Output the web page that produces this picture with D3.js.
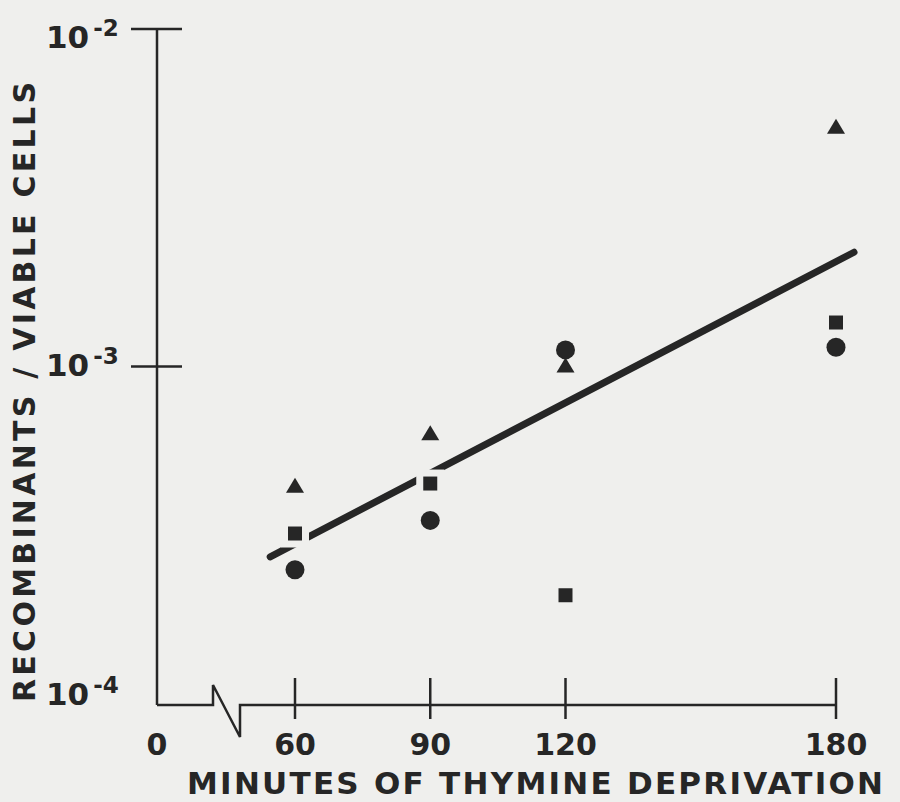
<!DOCTYPE html>
<html>
<head>
<meta charset="utf-8">
<script src="https://cdn.jsdelivr.net/npm/d3@7"></script>
<style>
  html, body { margin: 0; padding: 0; background: #efefed; }
  svg text { font-family: "DejaVu Sans", sans-serif; font-weight: bold; fill: #262626; }
</style>
</head>
<body>
<svg id="chart"></svg>
<script>
// minutes of thymine deprivation
const minutes = [60, 90, 120, 180];
// recombinants / viable cells, one array per marker
const triangleValues = [4.4e-4, 6.3e-4, 1.0e-3, 5.1e-3];
const squareValues = [3.2e-4, 4.5e-4, 2.1e-4, 1.35e-3];
const circleValues = [2.5e-4, 3.5e-4, 1.12e-3, 1.14e-3];
// fitted line end points [minutes, value]
const fitLine = [[54.5, 2.73e-4], [184, 2.18e-3]];
const yTickExponents = [-2, -3, -4];
const xTickLabels = ["60", "90", "120", "180"];

const layout = {
  width: 900,
  height: 802,
  axisX: 157,
  axisY: 705,
  ink: "#262626",
  paper: "#efefed",
};

function render() {
  const { width, height, axisX, axisY, ink, paper } = layout;
  const svg = d3.select("svg#chart").attr("width", width).attr("height", height);

  const x = d3.scaleLinear().domain([60, 180]).range([295, 836]);
  const y = d3.scaleLog().domain([1e-4, 1e-2]).range([704, 29]);

  // axes
  const axes = svg.append("g").attr("stroke", ink).attr("stroke-width", 2.5).attr("fill", "none");
  axes.append("line")
    .attr("x1", axisX).attr("x2", axisX)
    .attr("y1", y(1e-2)).attr("y2", axisY);
  // x axis with the break mark
  axes.append("path")
    .attr("stroke-linejoin", "miter")
    .attr("d", d3.line()([
      [axisX, axisY], [213, axisY], [213, axisY - 20],
      [240, axisY + 32], [240, axisY], [x(180), axisY],
    ]));
  axes.selectAll("line.ytick")
    .data(yTickExponents.filter((e) => e > -4))
    .join("line")
    .attr("class", "ytick")
    .attr("x1", axisX - 26).attr("x2", axisX + 25)
    .attr("y1", (e) => y(Math.pow(10, e))).attr("y2", (e) => y(Math.pow(10, e)));
  axes.selectAll("line.xtick")
    .data(minutes)
    .join("line")
    .attr("class", "xtick")
    .attr("x1", (d) => x(d)).attr("x2", (d) => x(d))
    .attr("y1", axisY - 27).attr("y2", axisY + 14);

  // y tick labels 10^-n
  const yLabelShift = { "-2": 19, "-3": 9, "-4": 1 };
  const yLabels = svg.append("g")
    .selectAll("text")
    .data(yTickExponents)
    .join("text")
    .attr("x", 46)
    .attr("y", (e) => y(Math.pow(10, e)) + yLabelShift[e])
    .style("font-size", "31px");
  yLabels.append("tspan").text("10");
  yLabels.append("tspan")
    .attr("dx", 4)
    .attr("dy", -12)
    .style("font-size", "23px")
    .text((e) => "-" + Math.abs(e));

  // x tick labels
  svg.append("g")
    .selectAll("text")
    .data(["0", ...xTickLabels])
    .join("text")
    .attr("x", (d, i) => (i === 0 ? axisX : x(minutes[i - 1])))
    .attr("y", 755)
    .attr("text-anchor", "middle")
    .style("font-size", "30px")
    .text((d) => d);

  // axis titles
  svg.append("text")
    .attr("x", 187)
    .attr("y", 794)
    .attr("textLength", 696)
    .attr("lengthAdjust", "spacing")
    .style("font-size", "31px")
    .text("MINUTES OF THYMINE DEPRIVATION");
  svg.append("text")
    .attr("transform", "translate(35, 702) rotate(-90)")
    .attr("textLength", 620)
    .attr("lengthAdjust", "spacing")
    .style("font-size", "30px")
    .text("RECOMBINANTS / VIABLE CELLS");

  // fitted line
  svg.append("path")
    .attr("fill", "none")
    .attr("stroke", ink)
    .attr("stroke-width", 7)
    .attr("stroke-linecap", "round")
    .attr("d", d3.line().x((d) => x(d[0])).y((d) => y(d[1]))(fitLine));

  const series = [
    { shape: "triangle", values: triangleValues },
    { shape: "square", values: squareValues },
    { shape: "circle", values: circleValues },
  ];
  const points = series.flatMap((s) => s.values.map((v, i) => ({ shape: s.shape, t: minutes[i], v })));
  const shapePath = (shape, pad) => {
    if (shape === "circle") {
      const r = 9.5 + pad;
      return `M${-r},0A${r},${r} 0 1,0 ${r},0A${r},${r} 0 1,0 ${-r},0Z`;
    }
    if (shape === "square") {
      const h = 7 + pad;
      return `M${-h},${-h}H${h}V${h}H${-h}Z`;
    }
    const w = 9 + pad, top = -9 - pad, bottom = 6 + pad;
    return `M0,${top}L${w},${bottom}L${-w},${bottom}Z`;
  };

  // paper-coloured halo so the line breaks around the markers
  svg.append("g")
    .selectAll("path")
    .data(points.filter((d) => d.shape === "square"))
    .join("path")
    .attr("transform", (d) => `translate(${x(d.t)}, ${y(d.v)})`)
    .attr("fill", paper)
    .attr("d", (d) => shapePath(d.shape, 7));

  svg.append("g")
    .selectAll("path")
    .data(points)
    .join("path")
    .attr("transform", (d) => `translate(${x(d.t)}, ${y(d.v)})`)
    .attr("fill", ink)
    .attr("d", (d) => shapePath(d.shape, 0));
}

render();
</script>
</body>
</html>
